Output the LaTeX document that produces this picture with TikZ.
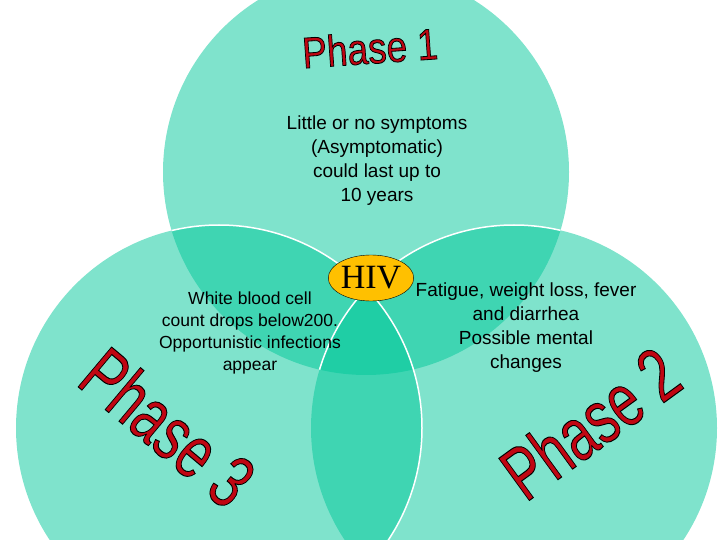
\documentclass[tikz,border=0pt]{standalone}
\usepackage{fontspec}
\setmainfont{Liberation Sans}
\newfontfamily\hivfont{Liberation Serif}
\usetikzlibrary{shapes.geometric,backgrounds}
\definecolor{phasefill}{RGB}{0,199,153}
\definecolor{phasered}{RGB}{192,6,18}
\definecolor{hivgold}{RGB}{255,192,0}
\newcommand\outlined[1]{\special{pdf:literal direct 2 Tr 0.7 w 0 0 0 RG}#1\special{pdf:literal direct 0 Tr}}

\begin{document}
\begin{tikzpicture}[x=1pt,y=-1pt,
  phase/.style={fill=phasefill,fill opacity=0.5},
  rim/.style={white,line width=1.5pt},
  symptoms/.style={align=center,text=black,font=\fontsize{19}{24}\selectfont},
  phasename/.style={text=phasered,inner sep=0pt,font=\fontsize{54}{54}\selectfont}]
\useasboundingbox (0,0) rectangle (720,540);
\begin{scope}
\clip (0,0) rectangle (720,540);
\fill[phase] (366,172) circle[radius=203pt];
\fill[phase] (514,428) circle[radius=203pt];
\fill[phase] (219,428) circle[radius=203pt];
\begin{scope}
\clip (366,172) circle[radius=203pt] (514,428) circle[radius=203pt];
\draw[rim] (219,428) circle[radius=203pt];
\end{scope}
\begin{scope}
\clip (366,172) circle[radius=203pt];
\draw[rim] (514,428) circle[radius=203pt];
\end{scope}
\end{scope}

\node[phasename,rotate=4,yscale=1.18,font=\fontsize{37}{37}\selectfont] (phaseone) at (370,48) {\outlined{Phase 1}};
\node[phasename,rotate=36,yscale=1.4] (phasetwo) at (590,423) {\outlined{Phase 2}};
\node[phasename,rotate=-40,yscale=1.4] (phasethree) at (168,427) {\outlined{Phase 3}};

\node[symptoms] (early) at (377,161) {Little or no symptoms\\(Asymptomatic)\\could last up to\\10 years};
\node[symptoms] (middle) at (526,328) {Fatigue, weight loss, fever\\and diarrhea\\Possible mental\\changes};
\node[symptoms,font=\fontsize{17.5}{22}\selectfont] (late) at (250,333) {White blood cell\\count drops below200.\\Opportunistic infections\\appear};

\node[ellipse,draw=black,fill=hivgold,minimum width=74pt,minimum height=46pt,inner sep=0pt,
  font=\hivfont\fontsize{34}{34}\selectfont] (hiv) at (371,278) {HIV};
\end{tikzpicture}
\end{document}
